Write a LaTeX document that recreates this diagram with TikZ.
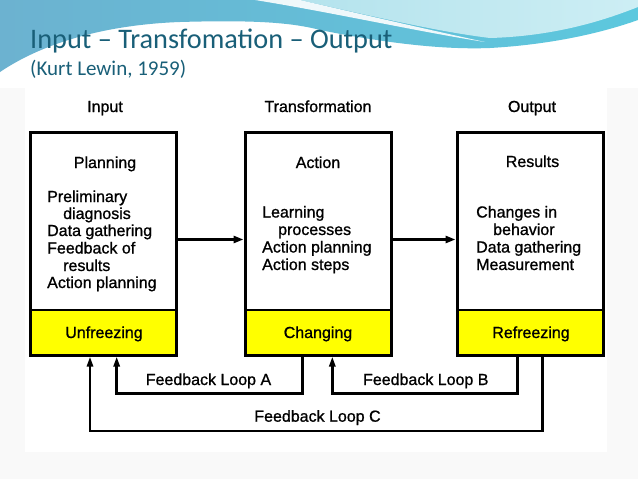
\documentclass[tikz,border=0pt]{standalone}
\usepackage{fontspec}
\setmainfont[FakeBold=1]{Liberation Sans}
\newfontfamily\calfont{Carlito}
\usetikzlibrary{arrows.meta}
\definecolor{titleteal}{RGB}{25,95,120}
\definecolor{waveL}{RGB}{108,178,208}
\definecolor{waveR}{RGB}{92,200,222}
\definecolor{waveLight}{RGB}{180,227,237}
\definecolor{waveLighter}{RGB}{205,238,244}
\definecolor{boxyellow}{RGB}{255,255,0}
\definecolor{slidebg}{RGB}{249,249,249}
\begin{document}
\begin{tikzpicture}[x=1pt,y=-1pt,
  boxframe/.style={draw=black,line width=3pt,rectangle,inner sep=0pt,minimum width=146pt,minimum height=223pt},
  yellowpart/.style={fill=boxyellow,rectangle,inner sep=0pt,minimum width=146pt,minimum height=45pt},
  lbl/.style={anchor=base,inner sep=0pt,font=\fontsize{16}{17}\selectfont},
  item/.style={anchor=base west,inner sep=0pt,font=\fontsize{16}{17}\selectfont},
  arr/.style={line width=2.5pt,-{Triangle[length=10pt,width=7pt]}},
  fb/.style={line width=2.5pt,-{Triangle[length=10pt,width=6pt]}}]
\useasboundingbox (0,0) rectangle (638,479);
% background
\fill[slidebg] (0,0) rectangle (638,479);
\fill[white] (0,0) rectangle (638,88);
% wave
\shade[left color=waveL,right color=waveR]
  (0,0) -- (638,0) -- (638,20)
  .. controls (610,30) and (560,44) .. (490,48)
  .. controls (440,50) and (380,42) .. (320,30)
  .. controls (290,22) and (250,20) .. (180,22)
  .. controls (100,25) and (40,45) .. (0,72) -- cycle;
\shade[left color=waveLight,right color=waveLighter]
  (300,0) .. controls (380,18) and (440,32) .. (490,38)
  .. controls (560,36) and (610,18) .. (638,7) -- (638,0) -- cycle;
\fill[white,opacity=0.9]
  (255,0) .. controls (330,12) and (420,32) .. (485,42)
  .. controls (430,30) and (360,14) .. (300,0) -- cycle;
% title
\node[anchor=base west,inner sep=0pt,text=titleteal,font=\calfont\fontsize{28.3}{32}\selectfont] (title) at (30,48) {Input – Transfomation – Output};
\node[anchor=base west,inner sep=0pt,text=titleteal,font=\calfont\fontsize{21}{25}\selectfont] (subtitle) at (30,75.5) {(Kurt Lewin, 1959)};
% panel
\fill[white] (25,88) rectangle (607,452);
% headers
\node[lbl] (hin) at (105,112) {Input};
\node[lbl] (htr) at (318,112) {Transformation};
\node[lbl] (hout) at (532,112) {Output};
% yellow parts
\node[yellowpart] (y1) at (103,332.5) {};
\node[yellowpart] (y2) at (318,332.5) {};
\node[yellowpart] (y3) at (530,332.5) {};
\draw[line width=2.5pt] (y1.north west) -- (y1.north east);
\draw[line width=2.5pt] (y2.north west) -- (y2.north east);
\draw[line width=2.5pt] (y3.north west) -- (y3.north east);
% frames
\node[boxframe] (b1) at (103,243.5) {};
\node[boxframe] (b2) at (318,243.5) {};
\node[boxframe] (b3) at (530,243.5) {};
% box titles
\node[lbl] (t1) at (105,168) {Planning};
\node[lbl] (t2) at (318,168) {Action};
\node[lbl] (t3) at (532.5,167) {Results};
% box 1 list
\node[item] (p1) at (47,202) {Preliminary};
\node[item] (p2) at (63,219) {diagnosis};
\node[item] (p3) at (47,236) {Data gathering};
\node[item] (p4) at (47,253.5) {Feedback of};
\node[item] (p5) at (63,271) {results};
\node[item] (p6) at (47,288) {Action planning};
% box 2 list
\node[item] (a1) at (262,217.5) {Learning};
\node[item] (a2) at (278,235) {processes};
\node[item] (a3) at (262,252.5) {Action planning};
\node[item] (a4) at (262,270) {Action steps};
% box 3 list
\node[item] (r1) at (476,217.5) {Changes in};
\node[item] (r2) at (493,235) {behavior};
\node[item] (r3) at (476,252.5) {Data gathering};
\node[item] (r4) at (476,270) {Measurement};
% yellow labels
\node[lbl] (u1) at (104,338) {Unfreezing};
\node[lbl] (u2) at (318,338) {Changing};
\node[lbl] (u3) at (531,338) {Refreezing};
% forward arrows
\draw[arr] ([yshift=4pt]b1.east) -- ([yshift=4pt]b2.west);
\draw[arr] ([yshift=4pt]b2.east) -- ([yshift=4pt]b3.west);
% feedback loops
\coordinate (yAB) at (0,393.3);
\coordinate (yC) at (0,431);
\draw[fb] ([xshift=-15.3pt]b2.south) -- ([xshift=-15.3pt]b2.south |- yAB) -| ([xshift=13.7pt]b1.south);
\draw[fb] ([xshift=-12.3pt]b3.south) -- ([xshift=-12.3pt]b3.south |- yAB) -| ([xshift=14.3pt]b2.south);
\draw[fb] ([xshift=12.7pt]b3.south) -- ([xshift=12.7pt]b3.south |- yC) -| ([xshift=-13pt]b1.south);
\node[lbl] (fa) at (208.5,385) {Feedback Loop A};
\node[lbl] (fbl) at (425.8,385) {Feedback Loop B};
\node[lbl] (fc) at (317.5,421.7) {Feedback Loop C};
\end{tikzpicture}
\end{document}
